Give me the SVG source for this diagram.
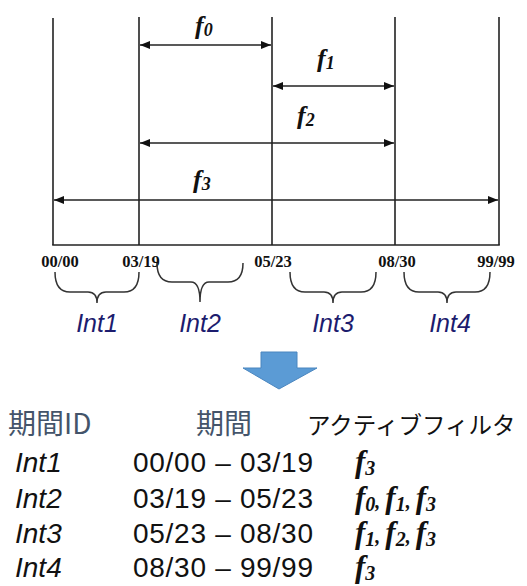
<svg xmlns="http://www.w3.org/2000/svg" width="527" height="586" viewBox="0 0 527 586">
<style>
.ln{stroke:#222;stroke-width:1.6;fill:none}
.br{stroke:#333;stroke-width:1.5;fill:none}
.fl{font-family:"Liberation Serif",serif;font-style:italic;font-weight:bold;font-size:26px;fill:#111}
.dt{font-family:"Liberation Serif",serif;font-weight:bold;font-size:16.5px;fill:#111;text-anchor:middle}
.il{font-family:"Liberation Sans",sans-serif;font-style:italic;font-size:25px;fill:#1c1c6e;text-anchor:middle}
.hd{font-family:"Noto Sans CJK JP","Liberation Sans",sans-serif;font-size:28px;fill:#44546A}
.hk{font-family:"Noto Sans CJK JP",sans-serif;font-size:23.5px;fill:#111}
.rw{font-family:"Liberation Sans",sans-serif;font-size:28px;fill:#111}
.ri{font-family:"Liberation Sans",sans-serif;font-style:italic;font-size:28px;fill:#111}
.tf{font-family:"Liberation Serif",serif;font-style:italic;font-weight:bold;font-size:31px;fill:#111}
</style>
<defs>
<marker id="ah" viewBox="0 0 10 8" refX="10" refY="4" markerWidth="10" markerHeight="8" markerUnits="userSpaceOnUse" orient="auto-start-reverse">
<path d="M0,0 L10,4 L0,8 z" fill="#111"/>
</marker>
</defs>
<g id="timeline">
<line class="ln" x1="53" y1="18" x2="53" y2="245"/>
<line class="ln" x1="139" y1="17" x2="139" y2="245"/>
<line class="ln" x1="272" y1="17" x2="272" y2="245"/>
<line class="ln" x1="395" y1="17" x2="395" y2="245"/>
<line class="ln" x1="499" y1="17" x2="499" y2="245"/>
<line class="ln" x1="52.2" y1="245" x2="499.8" y2="245"/>
</g>
<g id="connectors">
<line class="ln" x1="140" y1="45" x2="271" y2="45" marker-start="url(#ah)" marker-end="url(#ah)"/>
<line class="ln" x1="273" y1="86" x2="394" y2="86" marker-start="url(#ah)" marker-end="url(#ah)"/>
<line class="ln" x1="140" y1="143" x2="394" y2="143" marker-start="url(#ah)" marker-end="url(#ah)"/>
<line class="ln" x1="54" y1="200" x2="498" y2="200" marker-start="url(#ah)" marker-end="url(#ah)"/>
</g>
<g id="filter-labels">
<text class="fl" x="195" y="34">f<tspan font-size="18" dy="2">0</tspan></text>
<text class="fl" x="317" y="67">f<tspan font-size="18" dy="2">1</tspan></text>
<text class="fl" x="297" y="124">f<tspan font-size="18" dy="2">2</tspan></text>
<text class="fl" x="193" y="188">f<tspan font-size="18" dy="2">3</tspan></text>
</g>
<g id="dates">
<text class="dt" x="60" y="267">00/00</text>
<text class="dt" x="141" y="267">03/19</text>
<text class="dt" x="273" y="267">05/23</text>
<text class="dt" x="397" y="267">08/30</text>
<text class="dt" x="496" y="267">99/99</text>
</g>
<g id="int1">
<path class="br" d="M55,272 Q55,292 70,292 L88,292 Q97,292 97,303 Q97,292 106,292 L124,292 Q139,292 139,272"/>
<text class="il" x="97" y="332">Int1</text>
</g>
<g id="int2">
<path class="br" d="M157,263 Q157,282 172,282 L191,282 Q200,282 200,302 Q200,282 209,282 L228,282 Q243,282 243,263"/>
<text class="il" x="200" y="332">Int2</text>
</g>
<g id="int3">
<path class="br" d="M290,272 Q290,292 305,292 L324,292 Q333,292 333,303 Q333,292 342,292 L361,292 Q376,292 376,272"/>
<text class="il" x="333" y="332">Int3</text>
</g>
<g id="int4">
<path class="br" d="M404,272 Q404,292 419,292 L438,292 Q447,292 447,303 Q447,292 456,292 L475,292 Q490,292 490,272"/>
<text class="il" x="450" y="332">Int4</text>
</g>
<g id="down-arrow">
<path d="M261,352 L297,352 L297,368 L317,368 L279,389 L243,368 L261,368 z" fill="#5B9BD5" stroke="#4a86bf" stroke-width="1"/>
</g>
<g id="table">
<text class="hd" x="8" y="434">期間ID</text>
<text class="hd" x="196" y="434">期間</text>
<text class="hk" x="307" y="434">アクティブフィルタ</text>
<text class="ri" x="15" y="472">Int1</text>
<text class="rw" x="133" y="472" textLength="180">00/00 – 03/19</text>
<text class="tf" x="355" y="472">f<tspan font-size="20" dy="3">3</tspan></text>
<text class="ri" x="15" y="508">Int2</text>
<text class="rw" x="133" y="508" textLength="180">03/19 – 05/23</text>
<text class="tf" x="355" y="508">f<tspan font-size="20" dy="3">0</tspan><tspan dy="-3" font-size="20">, </tspan>f<tspan font-size="20" dy="3">1</tspan><tspan dy="-3" font-size="20">, </tspan>f<tspan font-size="20" dy="3">3</tspan></text>
<text class="ri" x="15" y="543">Int3</text>
<text class="rw" x="133" y="543" textLength="180">05/23 – 08/30</text>
<text class="tf" x="355" y="543">f<tspan font-size="20" dy="3">1</tspan><tspan dy="-3" font-size="20">, </tspan>f<tspan font-size="20" dy="3">2</tspan><tspan dy="-3" font-size="20">, </tspan>f<tspan font-size="20" dy="3">3</tspan></text>
<text class="ri" x="15" y="577">Int4</text>
<text class="rw" x="133" y="577" textLength="180">08/30 – 99/99</text>
<text class="tf" x="355" y="577">f<tspan font-size="20" dy="3">3</tspan></text>
</g>
</svg>
